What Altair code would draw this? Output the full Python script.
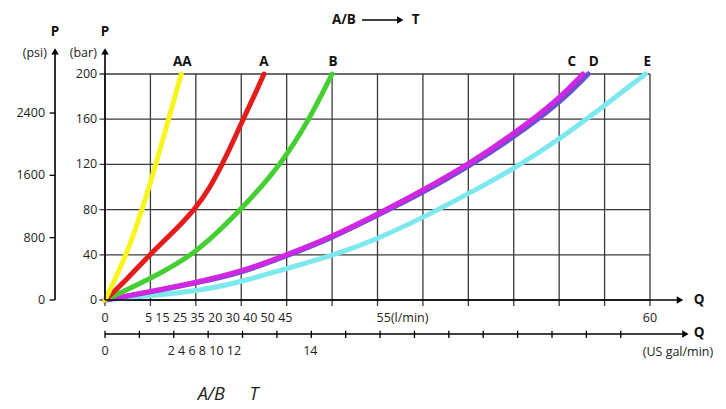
import altair as alt
import pandas as pd

FONT = "Open Sans"

# ---- curve data (Q in l/min, P in bar) ----
q_AA = [0, 2.4, 4.1, 5.6, 7.0, 8.4]
p_AA = [0, 40, 80, 120, 160, 200]
q_A = [0, 2.5, 4.9, 7.5, 9.9, 11.6, 12.9, 14.1, 15.2, 16.4, 17.5]
p_A = [0, 19, 40, 60, 80, 100, 120, 140, 160, 180, 200]
q_B = [0, 5, 9.9, 15.0, 19.4, 22.5, 25.0]
p_B = [0, 19, 40, 80, 120, 160, 200]
q_C = [0, 5, 10, 15, 20, 25, 30, 35, 40, 45, 50, 52.6]
p_C = [0, 7.5, 15.5, 25, 40, 56, 76, 97, 120, 147, 178, 200]
q_D = [0, 5, 10, 15, 20, 25, 30, 35, 40, 45, 50, 53.2]
p_D = [0, 7, 15, 24, 39, 55, 75, 95, 118, 144, 174, 200]
q_E = [0, 5, 10, 15, 20, 25, 30, 35, 40, 45, 50, 55, 59.5]
p_E = [0, 4, 7.5, 16, 28, 39, 54, 73, 94, 116, 142, 172, 200]

series = [("E", q_E, p_E, "#7de9ef"),
          ("D", q_D, p_D, "#6b4fd2"),
          ("C", q_C, p_C, "#d126e2"),
          ("B", q_B, p_B, "#45cf33"),
          ("A", q_A, p_A, "#e41c1c"),
          ("AA", q_AA, p_AA, "#f7f41e")]

# ---- axis ticks / labels ----
x_ticks = list(range(0, 61, 5))
y_ticks = [0, 40, 80, 120, 160, 200]
psi_ticks = [0, 800, 1600, 2400]
gal_ticks = list(range(0, 16))

# curve labels
lab_names = ["AA", "A", "B", "C", "D", "E"]
lab_q = [8.5, 17.5, 25.1, 51.4, 53.8, 59.7]
lab_p = [210.5, 210.5, 210.5, 210.5, 210.5, 210.5]

XS = alt.Scale(domain=[0, 60], nice=False, zero=False)
YS = alt.Scale(domain=[0, 200], nice=False, zero=False)


def X(f):
    return alt.X(f, scale=XS, axis=None)


def Y(f):
    return alt.Y(f, scale=YS, axis=None)


layers = []

# ---- grid (drawn as rules) ----
vgrid = pd.DataFrame({"q": x_ticks})
layers.append(alt.Chart(vgrid).mark_rule(color="#3a3a3a", strokeWidth=1.3).encode(
    x=X("q:Q"), y=Y("a:Q"), y2="b:Q").transform_calculate(a="-5.3", b="200"))
hgrid = pd.DataFrame({"p": y_ticks})
layers.append(alt.Chart(hgrid).mark_rule(color="#3a3a3a", strokeWidth=1.3).encode(
    y=Y("p:Q"), x=X("a:Q"), x2="b:Q").transform_calculate(a="-0.6", b="60"))

# y (bar) tick labels
layers.append(alt.Chart(hgrid).mark_text(font=FONT, fontSize=12.5, color="#222", align="right",
                                         baseline="middle").encode(
    y=Y("p:Q"), x=X("a:Q"), text="p:Q").transform_calculate(a="-0.85"))

# ---- curves ----
for name, qs, ps, col in series:
    d = pd.DataFrame({"q": qs, "p": ps, "i": list(range(len(qs)))})
    layers.append(alt.Chart(d).mark_line(
        color=col, strokeWidth=5, interpolate="basis", strokeCap="round").encode(
        x=X("q:Q"), y=Y("p:Q"), order="i:Q"))

# ---- axis lines (in data units) ----
seg = pd.DataFrame({
    "x":  [-5.5, 0,   0,    0,    28.3],
    "x2": [-5.5, 0,   63.0, 63.6, 32.2],
    "y":  [0,    0,   0,    -30.1, 247.8],
    "y2": [219,  219, 0,    -30.1, 247.8],
})
layers.append(alt.Chart(seg).mark_rule(color="#000", strokeWidth=1.6).encode(
    x=X("x:Q"), x2="x2:Q", y=Y("y:Q"), y2="y2:Q"))

# arrow heads
tri = pd.DataFrame({
    "x": [-5.5, 0, 63.3, 63.9, 32.5],
    "y": [220, 220, 0, -30.1, 247.8],
    "s": ["triangle-up", "triangle-up", "triangle-right", "triangle-right", "triangle-right"],
})
layers.append(alt.Chart(tri).mark_point(filled=True, color="#000", opacity=1, size=55).encode(
    x=X("x:Q"), y=Y("y:Q"), shape=alt.Shape("s:N", scale=None, legend=None)))

# psi ticks
psi_df = pd.DataFrame({"psi": psi_ticks, "lab": [str(v) for v in psi_ticks]})
psi_base = alt.Chart(psi_df).transform_calculate(p="datum.psi / 14.5038")
layers.append(psi_base.mark_rule(color="#000", strokeWidth=1.3).encode(
    x=X("a:Q"), x2="b:Q", y=Y("p:Q")).transform_calculate(a="-6.1", b="-5.5"))
layers.append(psi_base.mark_text(font=FONT, fontSize=12.5, color="#222", align="right",
                                 baseline="middle").encode(
    x=X("a:Q"), y=Y("p:Q"), text="lab:N").transform_calculate(a="-6.6"))

# gal ticks
gal_df = pd.DataFrame({"gal": gal_ticks})
gal_base = alt.Chart(gal_df).transform_calculate(q="datum.gal * 3.78541")
layers.append(gal_base.mark_rule(color="#000", strokeWidth=1.3).encode(
    x=X("q:Q"), y=Y("a:Q"), y2="b:Q").transform_calculate(a="-27.2", b="-33.6"))

# ---- texts ----
reg_txt = pd.DataFrame({
    "x": [-6.4, -0.9, 4.4, 29.9, 0, 60, 0, 6.9, 22.6, 59.2],
    "y": [218.5, 218.5, -15.9, -15.9, -15.9, -15.9, -45.3, -45.3, -45.3, -46.0],
    "t": ["(psi)", "(bar)", "5 15 25 35 20 30 40 50 45", "55(l/min)", "0", "60",
          "0", "2 4 6 8 10 12", "14", "(US gal/min)"],
    "al": ["right", "right", "left", "left", "center", "center", "center", "left", "center", "left"],
})
for al in ["left", "right", "center"]:
    sub = reg_txt[reg_txt["al"] == al]
    layers.append(alt.Chart(sub).mark_text(font=FONT, fontSize=12.5, color="#222",
                                           align=al, baseline="middle").encode(
        x=X("x:Q"), y=Y("y:Q"), text="t:N"))

bold_txt = pd.DataFrame({
    "x": [-5.5, 0, 65.4, 65.4, 26.3, 34.2] + lab_q,
    "y": [237, 237, 0, -29.5, 247.8, 247.8] + lab_p,
    "t": ["P", "P", "Q", "Q", "A/B", "T"] + lab_names,
})
layers.append(alt.Chart(bold_txt).mark_text(font=FONT, fontSize=13.5, fontWeight="bold",
                                            color="#111", align="center", baseline="middle").encode(
    x=X("x:Q"), y=Y("y:Q"), text="t:N"))

ital_txt = pd.DataFrame({"x": [11.7, 16.4], "y": [-84, -84], "t": ["A/B", "T"]})
layers.append(alt.Chart(ital_txt).mark_text(font=FONT, fontSize=18, fontStyle="italic",
                                            color="#222", align="center", baseline="middle").encode(
    x=X("x:Q"), y=Y("y:Q"), text="t:N"))

chart = alt.layer(*layers).properties(
    width=545, height=226,
    padding={"left": 105, "top": 74, "right": 76, "bottom": 109},
    autosize=alt.AutoSizeParams(type="none"),
    background="white",
).configure_view(strokeWidth=0)

chart.save("out.html", embed_options={"renderer": "svg", "actions": False})
